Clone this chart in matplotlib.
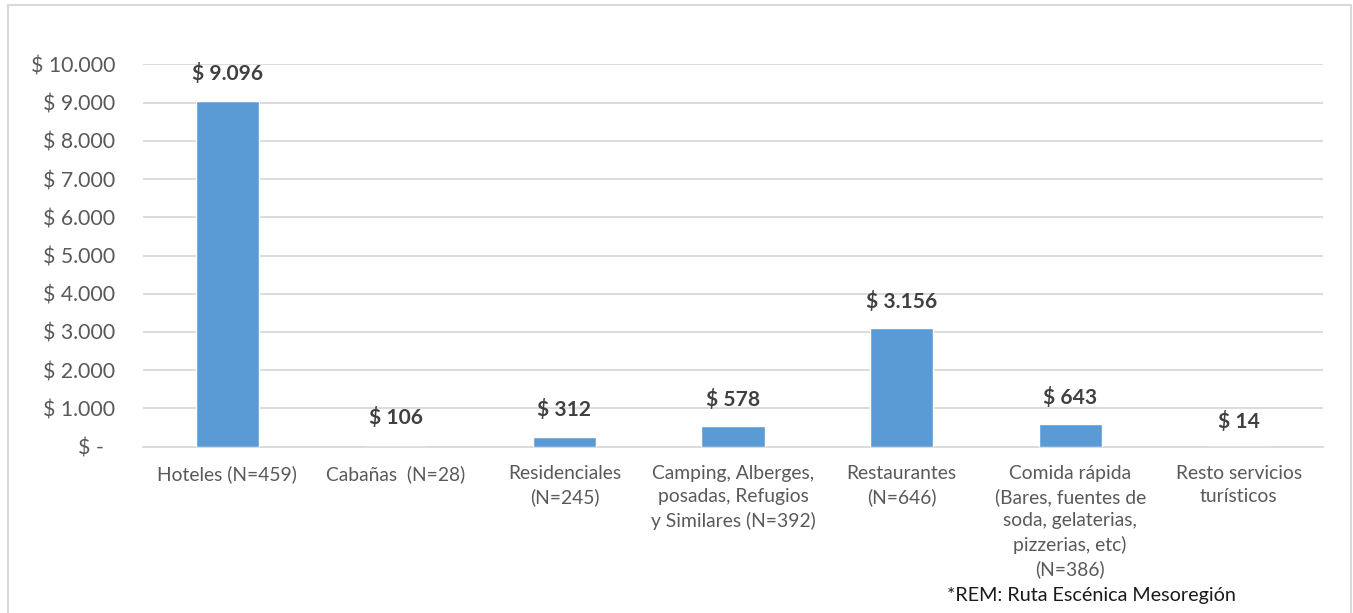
import matplotlib.pyplot as plt
from matplotlib.patches import Rectangle
from matplotlib.ticker import FuncFormatter

# ---------------------------------------------------------------
# datos
# ---------------------------------------------------------------
categorias = [
    "Hoteles (N=459)",
    "Cabañas  (N=28)",
    "Residenciales\n(N=245)",
    "Camping, Alberges,\nposadas, Refugios\ny Similares (N=392)",
    "Restaurantes\n(N=646)",
    "Comida rápida\n(Bares, fuentes de\nsoda, gelaterias,\npizzerias, etc)\n(N=386)",
    "Resto servicios\nturísticos",
]
# altura de las barras tal como se ven en el gráfico
alturas = [9050, 0, 265, 540, 3100, 590, 0]
# valores de las etiquetas
etiquetas = [9096, 106, 312, 578, 3156, 643, 14]
y_ticks = [0, 1000, 2000, 3000, 4000, 5000, 6000, 7000, 8000, 9000, 10000]
nota = "*REM: Ruta Escénica Mesoregión"

GRIS_TXT = '#595959'
GRIS_LBL = '#404040'
GRID = '#D9D9D9'
AZUL = '#5B9BD5'


def pesos(v):
    if v == 0:
        return "$ -  "
    return "$ " + f"{v:,.0f}".replace(",", ".")


plt.rcParams['font.family'] = ['Lato', 'DejaVu Sans']

W, H = 1353, 613
fig = plt.figure(figsize=(W / 100, H / 100), dpi=100)
ax = fig.add_axes([143 / W, 1 - 446.7 / H, (1323 - 143) / W, (446.7 - 64.3) / H])

x = range(len(categorias))
ax.bar(x, alturas, width=0.375, color=AZUL, edgecolor='white', linewidth=1.0, zorder=3)

for xi, v in zip(x, etiquetas):
    ax.annotate(pesos(v), (xi, v), xytext=(0, 18), textcoords='offset points',
                ha='center', va='center', fontsize=15.1, fontweight='bold',
                color=GRIS_LBL, zorder=4)

ax.set_xlim(-0.5, len(categorias) - 0.5)
ax.set_ylim(0, 10000)
ax.set_yticks(y_ticks)
ax.yaxis.set_major_formatter(FuncFormatter(lambda v, p: pesos(v)))
ax.set_xticks(list(x))
ax.set_xticklabels(categorias, linespacing=1.44)

ax.tick_params(axis='y', length=0, pad=20, labelsize=15.3, labelcolor=GRIS_TXT)
ax.tick_params(axis='x', length=0, pad=13, labelsize=13.9, labelcolor=GRIS_TXT)
for lbl in ax.get_xticklabels():
    lbl.set_verticalalignment('top')

ax.grid(axis='y', color=GRID, linewidth=1.3, zorder=0)
ax.set_axisbelow(True)
for s in ['top', 'right', 'left']:
    ax.spines[s].set_visible(False)
ax.spines['bottom'].set_color(GRID)
ax.spines['bottom'].set_linewidth(1.3)

fig.text(947 / W, 1 - 596 / H, nota, ha='left', va='center', fontsize=14.2, color='#1a1a1a')

# marco del gráfico
fig.patches.append(Rectangle((8 / W, -0.02), (1351 - 8) / W, 1.02 - 5 / H,
                             transform=fig.transFigure, fill=False,
                             edgecolor=GRID, linewidth=1.5))

fig.savefig("out.png", dpi=100)
